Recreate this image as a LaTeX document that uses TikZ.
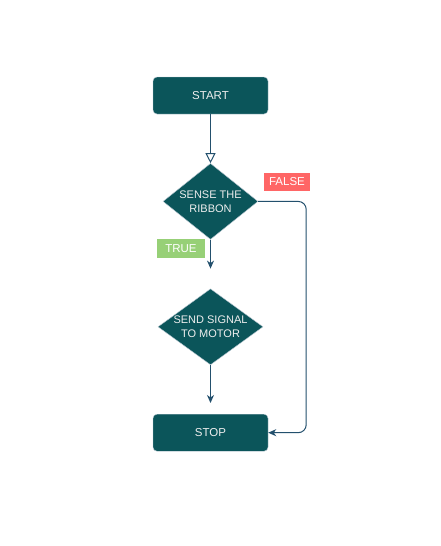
\documentclass[tikz,border=0pt]{standalone}
\usepackage{fontspec}
\setmainfont{Liberation Sans}
\usetikzlibrary{positioning,shapes.geometric,arrows.meta}
\definecolor{boxfill}{HTML}{0B555A}
\definecolor{boxline}{HTML}{BAC8D3}
\definecolor{flowline}{HTML}{23506D}
\definecolor{truefill}{HTML}{97D077}
\definecolor{falsefill}{HTML}{FF6666}
\definecolor{boxtext}{HTML}{EEEEEE}

\begin{document}
\begin{tikzpicture}[x=1pt,y=1pt,>={Stealth[length=8pt,width=7pt,inset=2.5pt]},
    terminal/.style={draw=boxline,fill=boxfill,rounded corners=4pt,minimum width=115pt,minimum height=37pt,text=boxtext,font=\fontsize{11.5}{13}\selectfont},
    decision/.style={diamond,draw=boxline,fill=boxfill,inner sep=0pt,minimum width=#1,minimum height=76pt},
    dtext/.style={text=boxtext,align=center,font=\fontsize{11}{14}\selectfont},
    tag/.style={fill=#1,text=white,inner sep=0pt,minimum height=18.5pt,font=\fontsize{11.5}{13}\selectfont},
    flow/.style={draw=flowline,line width=1pt}]
        \useasboundingbox (0,0) rectangle (441,-546);
        \node[terminal] (start) at (210.5,-95.5) {START};
        \node[decision=95pt,below=49pt of start] (sense) {};
        \node[dtext] at (sense) {SENSE THE\\RIBBON};
        \node[decision=105pt,below=49pt of sense] (signal) {};
        \node[dtext] at (signal) {SEND SIGNAL\\TO MOTOR};
        \node[terminal,below=49pt of signal] (stop) {STOP};
        \node[tag=falsefill,minimum width=46pt] (false) at (287,-182) {FALSE};
        \node[tag=truefill,minimum width=48pt] (true) at (181,-248.5) {TRUE};
        \draw[flow,-{Triangle[open,length=10pt,width=10pt]}] (start) -- (sense);
        \draw[flow,->,shorten >=20pt] (sense) -- (signal);
        \draw[flow,->,shorten >=11pt] (signal) -- (stop);
        \draw[flow,->,rounded corners=8pt] (sense.east) -- ++(48,0) |- (stop.east);
    \end{tikzpicture}
\end{document}
